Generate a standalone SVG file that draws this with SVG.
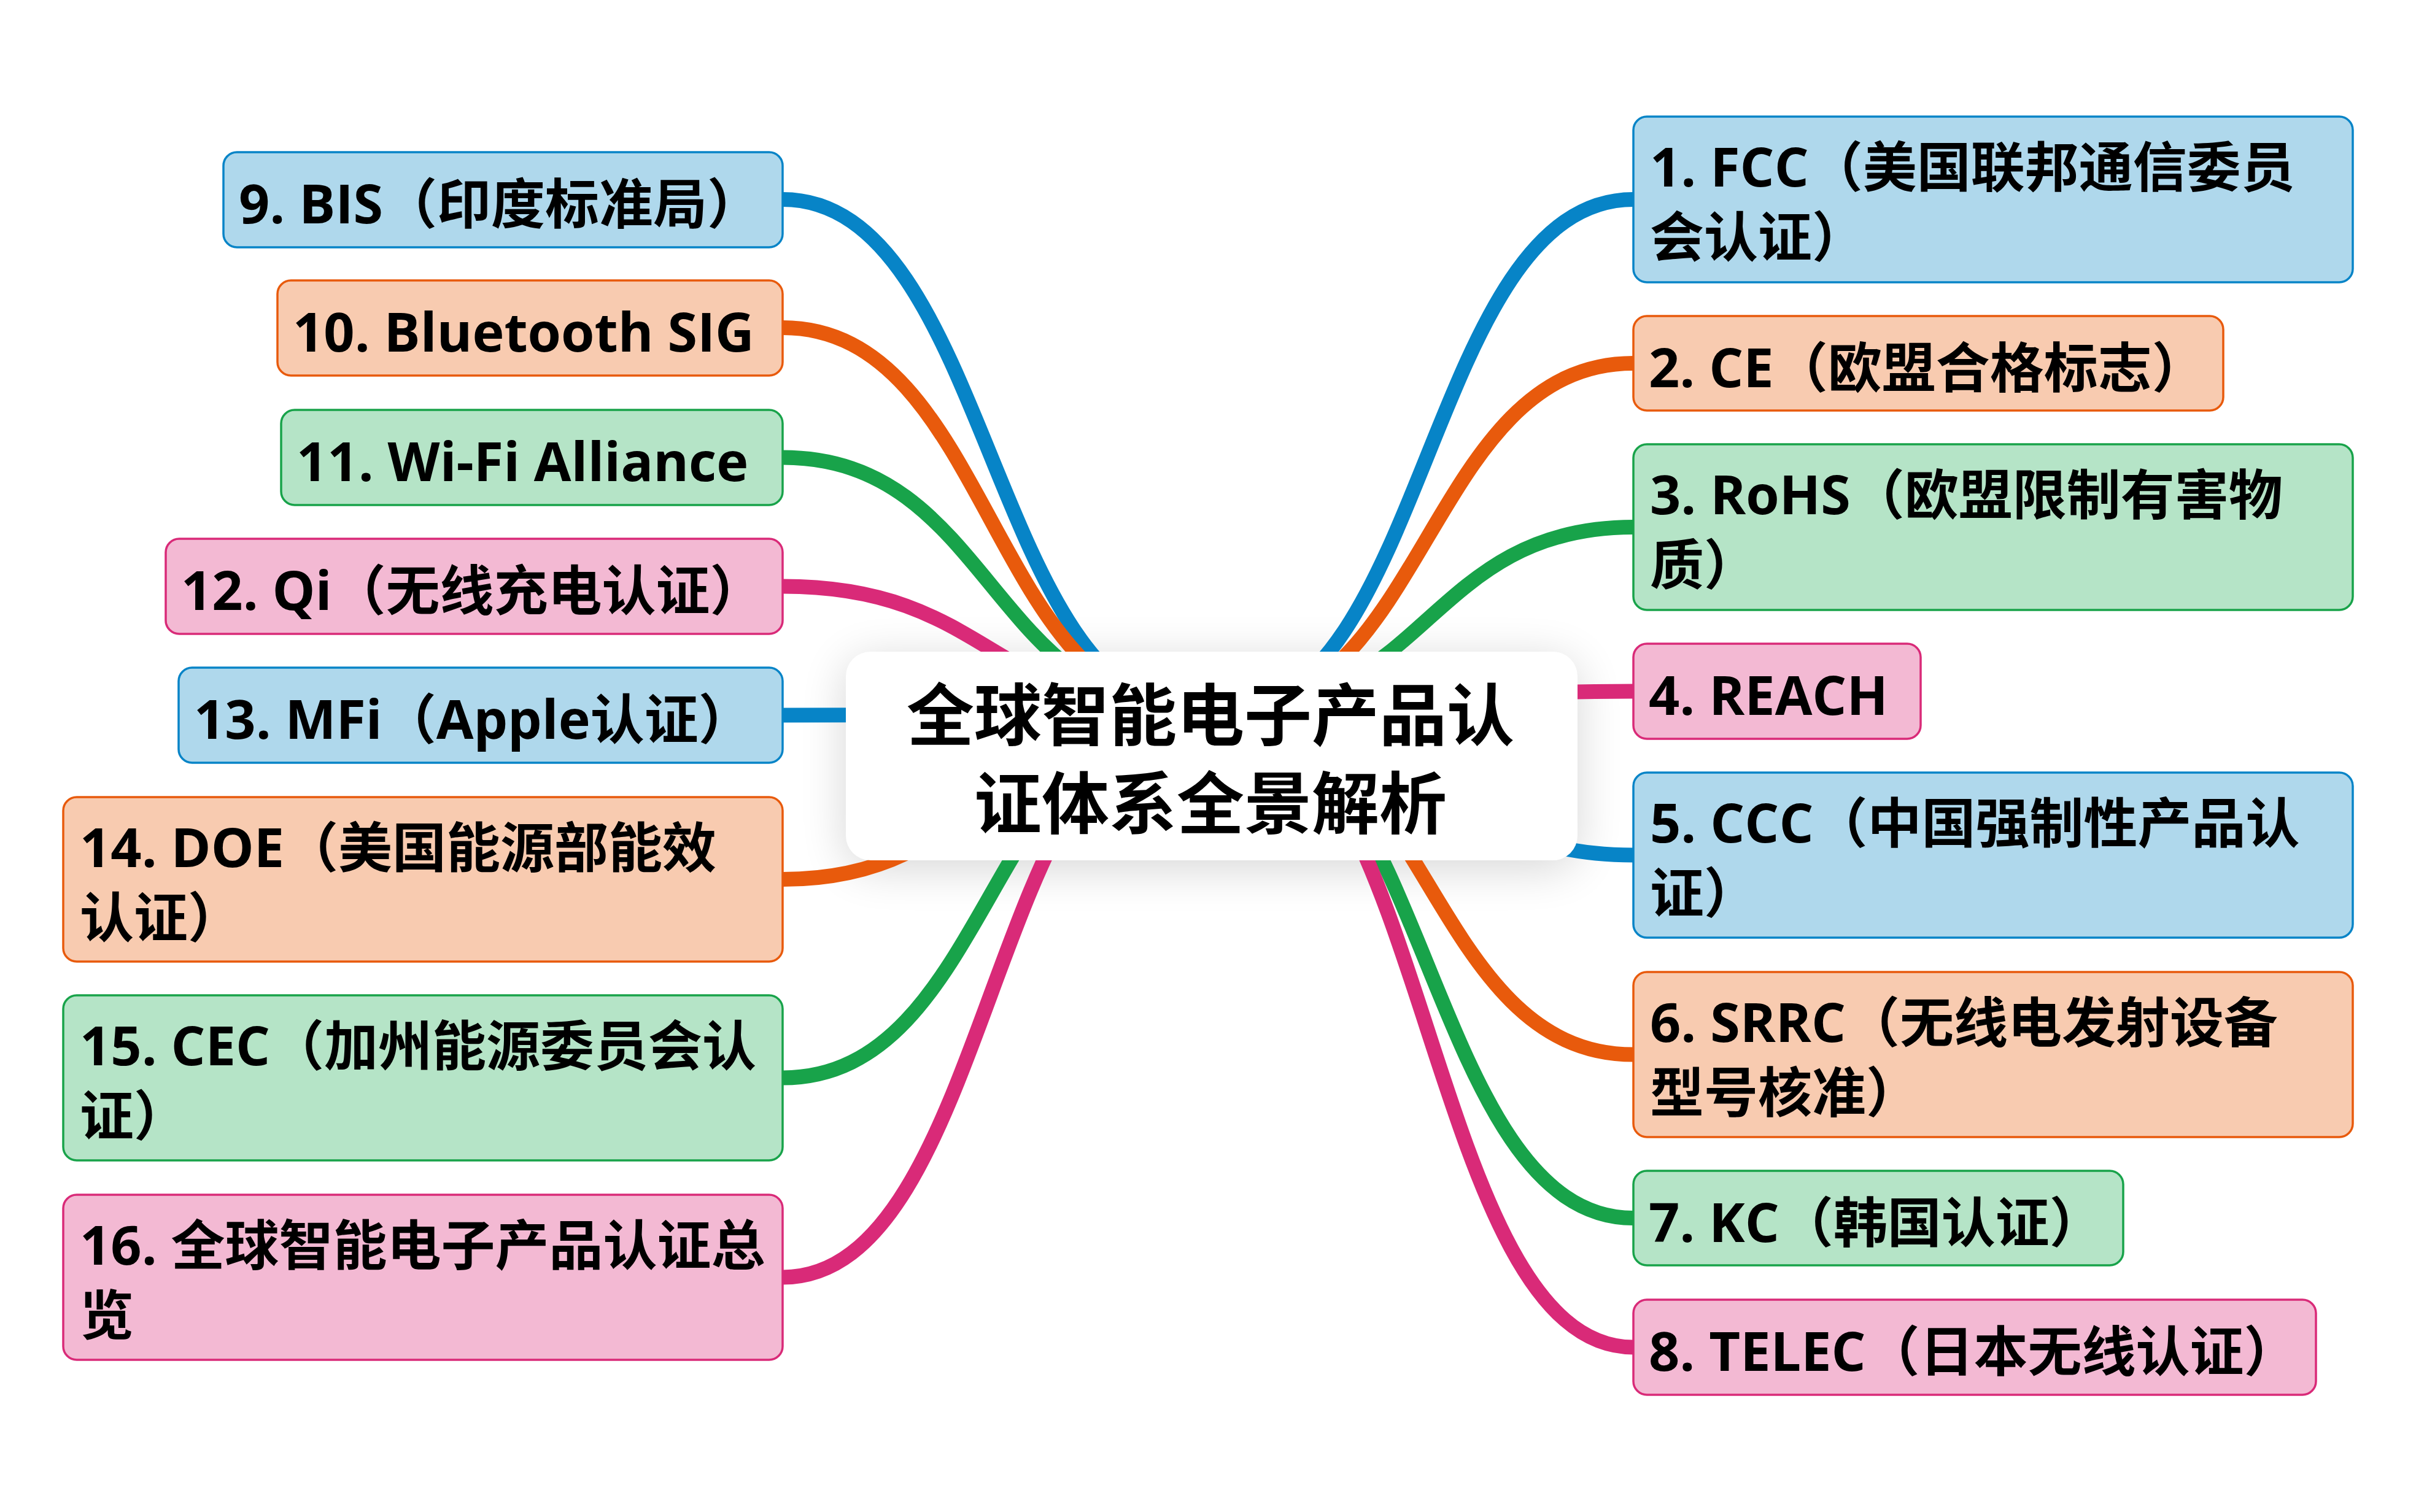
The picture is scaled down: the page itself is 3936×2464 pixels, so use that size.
<svg xmlns="http://www.w3.org/2000/svg" width="3936" height="2464" viewBox="0 0 3936 2464">
<defs>
<style>
.t{font-family:"Open Sans","Noto Sans CJK SC",sans-serif;font-weight:700;font-size:88px;fill:#000}
.title{font-family:"Noto Sans CJK SC",sans-serif;font-weight:700;font-size:110px;fill:#000;text-anchor:middle}
.lk{fill:none;stroke-width:24}
.bx{stroke-width:3.5}
.blue .bx{fill:#afd8ec;stroke:#0784c7}
.orange .bx{fill:#f8cbb0;stroke:#e85a0c}
.green .bx{fill:#b5e4c7;stroke:#18a34a}
.pink .bx{fill:#f3b9d3;stroke:#d92a78}
.lb{stroke:#0784c7}.lo{stroke:#e85a0c}.lg{stroke:#18a34a}.lp{stroke:#d92a78}
</style>
<filter id="sh" x="-30%" y="-60%" width="160%" height="220%">
<feGaussianBlur stdDeviation="38"/>
</filter>
</defs>
<rect width="3936" height="2464" fill="#fff"/>
<g id="center-shadow">
<rect x="1378" y="1075" width="1192" height="340" rx="40" fill="#000" opacity="0.16" filter="url(#sh)"/>
</g>
<g id="connectors">
<path class="lk lb" d="M1953 1160 C1614 1160 1614 325 1275 325"/>
<path class="lk lo" d="M1953 1160 C1614 1160 1614 534 1275 534"/>
<path class="lk lg" d="M1953 1160 C1614 1160 1614 745.5 1275 745.5"/>
<path class="lk lp" d="M1953 1160 C1614 1160 1614 955.5 1275 955.5"/>
<path class="lk lb" d="M1953 1160 C1614 1160 1614 1165.5 1275 1165.5"/>
<path class="lk lo" d="M1953 1160 C1614 1160 1614 1433 1275 1433"/>
<path class="lk lg" d="M1953 1160 C1614 1160 1614 1756.5 1275 1756.5"/>
<path class="lk lp" d="M1953 1160 C1614 1160 1614 2081.5 1275 2081.5"/>
<path class="lk lb" d="M1990 1160 C2325.5 1160 2325.5 325 2661 325"/>
<path class="lk lo" d="M1990 1160 C2325.5 1160 2325.5 592 2661 592"/>
<path class="lk lg" d="M1990 1160 C2325.5 1160 2325.5 859 2661 859"/>
<path class="lk lp" d="M1990 1160 C2325.5 1160 2325.5 1126.5 2661 1126.5"/>
<path class="lk lb" d="M1990 1160 C2325.5 1160 2325.5 1393.5 2661 1393.5"/>
<path class="lk lo" d="M1990 1160 C2325.5 1160 2325.5 1718.5 2661 1718.5"/>
<path class="lk lg" d="M1990 1160 C2325.5 1160 2325.5 1985 2661 1985"/>
<path class="lk lp" d="M1990 1160 C2325.5 1160 2325.5 2195.5 2661 2195.5"/>
</g>
<g id="center">
<rect x="1378" y="1062" width="1192" height="340" rx="40" fill="#fff"/>
<text class="title" x="1972" y="1206">全球智能电子产品认<tspan x="1972" y="1350">证体系全景解析</tspan></text>
</g>
<g id="n9" class="blue"><rect class="bx" x="364" y="248" width="911" height="155" rx="22"/><text class="t" x="389" y="364">9. BIS（印度标准局）</text></g>
<g id="n10" class="orange"><rect class="bx" x="452" y="457" width="823" height="155" rx="22"/><text class="t" x="477" y="573">10. Bluetooth SIG</text></g>
<g id="n11" class="green"><rect class="bx" x="458" y="668" width="817" height="155" rx="22"/><text class="t" x="483" y="784">11. Wi-Fi Alliance</text></g>
<g id="n12" class="pink"><rect class="bx" x="270" y="878" width="1005" height="155" rx="22"/><text class="t" x="295" y="994">12. Qi（无线充电认证）</text></g>
<g id="n13" class="blue"><rect class="bx" x="291" y="1088" width="984" height="155" rx="22"/><text class="t" x="316" y="1204">13. MFi（Apple认证）</text></g>
<g id="n14" class="orange"><rect class="bx" x="103" y="1299" width="1172" height="268" rx="22"/><text class="t" x="130" y="1413">14. DOE（美国能源部能效<tspan x="130" y="1527">认证）</tspan></text></g>
<g id="n15" class="green"><rect class="bx" x="103" y="1622" width="1172" height="269" rx="22"/><text class="t" x="130" y="1736">15. CEC（加州能源委员会认<tspan x="130" y="1850">证）</tspan></text></g>
<g id="n16" class="pink"><rect class="bx" x="103" y="1947" width="1172" height="269" rx="22"/><text class="t" x="130" y="2061">16. 全球智能电子产品认证总<tspan x="130" y="2175">览</tspan></text></g>
<g id="n1" class="blue"><rect class="bx" x="2661" y="190" width="1172" height="270" rx="22"/><text class="t" x="2688" y="304">1. FCC（美国联邦通信委员<tspan x="2688" y="418">会认证）</tspan></text></g>
<g id="n2" class="orange"><rect class="bx" x="2661" y="515" width="961" height="154" rx="22"/><text class="t" x="2686" y="631">2. CE（欧盟合格标志）</text></g>
<g id="n3" class="green"><rect class="bx" x="2661" y="724" width="1172" height="270" rx="22"/><text class="t" x="2688" y="838">3. RoHS（欧盟限制有害物<tspan x="2688" y="952">质）</tspan></text></g>
<g id="n4" class="pink"><rect class="bx" x="2661" y="1049" width="468" height="155" rx="22"/><text class="t" x="2686" y="1165">4. REACH</text></g>
<g id="n5" class="blue"><rect class="bx" x="2661" y="1259" width="1172" height="269" rx="22"/><text class="t" x="2688" y="1373">5. CCC（中国强制性产品认<tspan x="2688" y="1487">证）</tspan></text></g>
<g id="n6" class="orange"><rect class="bx" x="2661" y="1584" width="1172" height="269" rx="22"/><text class="t" x="2688" y="1698">6. SRRC（无线电发射设备<tspan x="2688" y="1812">型号核准）</tspan></text></g>
<g id="n7" class="green"><rect class="bx" x="2661" y="1908" width="798" height="154" rx="22"/><text class="t" x="2686" y="2024">7. KC（韩国认证）</text></g>
<g id="n8" class="pink"><rect class="bx" x="2661" y="2118" width="1112" height="155" rx="22"/><text class="t" x="2686" y="2234">8. TELEC（日本无线认证）</text></g>
</svg>
